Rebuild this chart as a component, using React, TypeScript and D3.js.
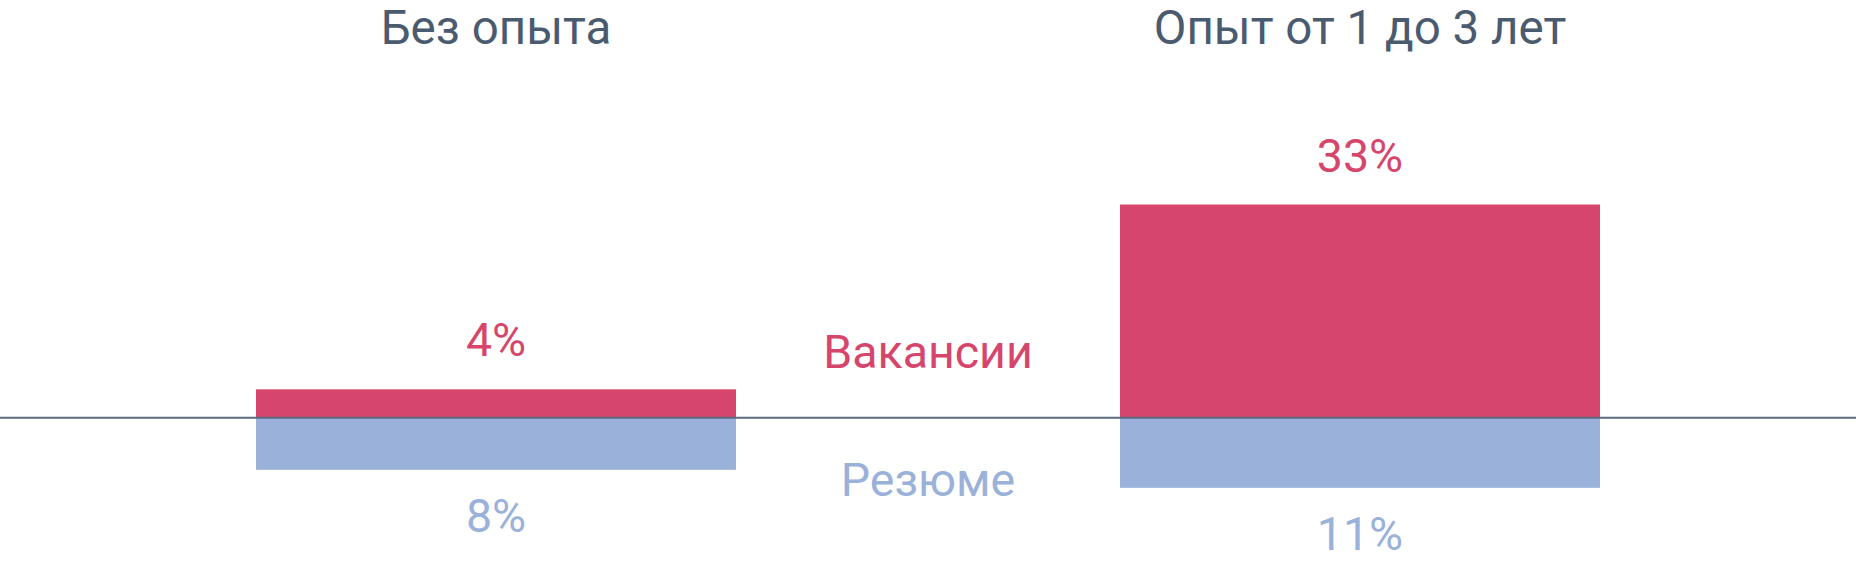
import React from "react";
import * as d3 from "d3";

const categories: string[] = ["Без опыта", "Опыт от 1 до 3 лет"];
const vacancies: number[] = [4.3, 33];
const resumes: number[] = [8.2, 11];
const seriesNames: string[] = ["Вакансии", "Резюме"];

const W = 1856;
const H = 572;
const RED = "#d6466c";
const BLUE = "#9ab1d9";
const TITLE = "#4b5b6f";
const AXIS = "#5b6b82";
const FONT = "Roboto, 'Noto Sans', sans-serif";

export default function App() {
  const x = d3
    .scaleBand<string>()
    .domain(categories)
    .range([64, 1792])
    .paddingInner(0.4444)
    .paddingOuter(0.2222);
  const y0 = 417;
  const h = d3.scaleLinear().domain([0, 33]).range([0, 212.5]);
  const fmt = (v: number) => `${Math.round(v)}%`;
  const mid = (x.range()[0] + x.range()[1]) / 2;

  return (
    <svg
      width={W}
      height={H}
      style={{ position: "absolute", left: 0, top: 0, background: "#fff" }}
      fontFamily={FONT}
    >
      {categories.map((c, i) => {
        const bx = x(c)!;
        const bw = x.bandwidth();
        const cx = bx + bw / 2;
        const rh = h(vacancies[i]);
        const bh = h(resumes[i]);
        return (
          <g key={c}>
            <text x={cx} y={44} textAnchor="middle" fontSize={47.5} fill={TITLE}>
              {c}
            </text>
            <rect x={bx} y={y0 - rh} width={bw} height={rh} fill={RED} />
            <rect x={bx} y={y0} width={bw} height={bh} fill={BLUE} />
            <text x={cx} y={y0 - rh - 33} textAnchor="middle" fontSize={46.5} fill={RED}>
              {fmt(vacancies[i])}
            </text>
            <text x={cx} y={y0 + bh + 62} textAnchor="middle" fontSize={46.5} fill={BLUE}>
              {fmt(resumes[i])}
            </text>
          </g>
        );
      })}
      <line x1={0} x2={W} y1={y0 + 0.75} y2={y0 + 0.75} stroke={AXIS} strokeWidth={2} />
      <text x={mid} y={368} textAnchor="middle" fontSize={46.5} fill={RED}>
        {seriesNames[0]}
      </text>
      <text x={mid} y={496} textAnchor="middle" fontSize={46.5} fill={BLUE}>
        {seriesNames[1]}
      </text>
    </svg>
  );
}
